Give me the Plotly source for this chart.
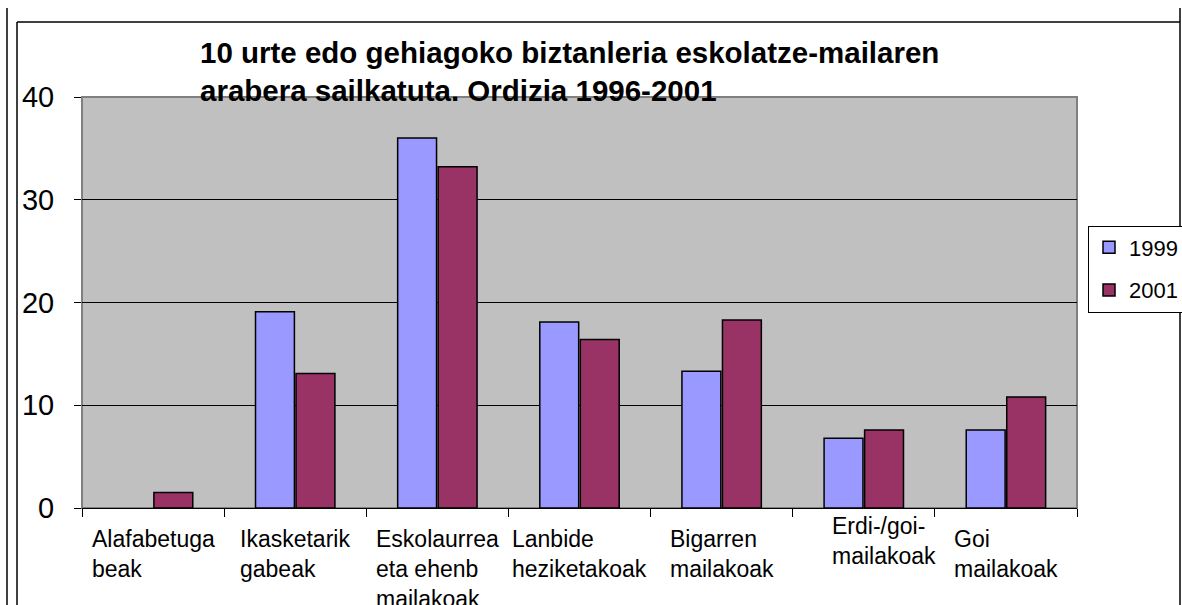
import plotly.graph_objects as go

categories = ["Alafabetugabeak", "Ikasketarik gabeak", "Eskolaurrea eta ehenb mailakoak",
              "Lanbide heziketakoak", "Bigarren mailakoak", "Erdi-/goi-mailakoak", "Goi mailakoak"]
category_labels = ["Alafabetuga<br>beak", "Ikasketarik<br>gabeak", "Eskolaurrea<br>eta ehenb<br>mailakoak",
                   "Lanbide<br>heziketakoak", "Bigarren<br>mailakoak", "Erdi-/goi-<br>mailakoak", "Goi<br>mailakoak"]
values_1999 = [None, 19.1, 36.0, 18.1, 13.3, 6.8, 7.6]
values_2001 = [1.5, 13.1, 33.2, 16.4, 18.3, 7.6, 10.8]
y_ticks = [0, 10, 20, 30, 40]
title_text = "10 urte edo gehiagoko biztanleria eskolatze-mailaren<br>arabera sailkatuta. Ordizia 1996-2001"

W, H = 1182, 605
L, R, T, B = 82, 1077, 97, 508


def px_x(px):
    return (px - L) / (R - L)


def px_y(py):
    return (B - py) / (B - T)


FONT = "Liberation Sans, Arial, sans-serif"

fig = go.Figure()
fig.add_trace(go.Bar(name="1999", x=categories, y=values_1999,
                     marker=dict(color="#9999ff", line=dict(color="black", width=1.5)),
                     legendgroup="a"))
fig.add_trace(go.Bar(name="2001", x=categories, y=values_2001,
                     marker=dict(color="#993366", line=dict(color="black", width=1.5)),
                     legendgroup="b"))

shapes = [
    # plot area border
    dict(type="rect", xref="paper", yref="paper", x0=0, x1=1, y0=0, y1=1,
         line=dict(color="#808080", width=2), layer="between"),
    # outer frame lines
    dict(type="line", xref="paper", yref="paper", x0=px_x(7), x1=px_x(7), y0=px_y(8), y1=px_y(610),
         line=dict(color="black", width=1.5)),
    dict(type="line", xref="paper", yref="paper", x0=px_x(17), x1=px_x(17), y0=px_y(22), y1=px_y(610),
         line=dict(color="black", width=1.5)),
    dict(type="line", xref="paper", yref="paper", x0=px_x(17), x1=px_x(1180), y0=px_y(22), y1=px_y(22),
         line=dict(color="black", width=1.5)),
    dict(type="line", xref="paper", yref="paper", x0=px_x(1180), x1=px_x(1180), y0=px_y(8), y1=px_y(610),
         line=dict(color="black", width=1.5)),
]

annotations = []
for i, (cat, lab) in enumerate(zip(categories, category_labels)):
    xs, ys = 0, 0
    if i == 5:
        xs, ys = 20, 13
    annotations.append(dict(x=cat, xref="x", y=px_y(524), yref="paper", text=lab,
                            showarrow=False, xanchor="center", yanchor="top", align="left",
                            xshift=xs, yshift=ys,
                            font=dict(family=FONT, size=23, color="black")))

fig.update_layout(
    width=W, height=H,
    margin=dict(l=L, r=W - R, t=T, b=H - B, pad=0, autoexpand=False),
    paper_bgcolor="white",
    plot_bgcolor="#c0c0c0",
    barmode="group",
    bargap=0.43,
    bargroupgap=0.04,
    title=dict(text="<b>" + title_text + "</b>", xref="container", x=200 / W, xanchor="left",
               yref="container", y=1 - 63 / H, yanchor="top",
               font=dict(family=FONT, size=29.5, color="black")),
    showlegend=True,
    legend=dict(x=px_x(1088), xanchor="left", y=px_y(269), yanchor="middle",
                bgcolor="white", bordercolor="black", borderwidth=1,
                font=dict(family=FONT, size=22, color="black"),
                tracegroupgap=11, traceorder="grouped", itemwidth=30),
    shapes=shapes,
    annotations=annotations,
)
fig.update_xaxes(type="category", showticklabels=False, ticks="outside", tickson="boundaries",
                 ticklen=8, tickcolor="black", showline=True, linecolor="black", linewidth=1,
                 showgrid=False)
fig.update_yaxes(range=[0, 40], tickvals=y_ticks, ticks="outside", ticklen=7, tickcolor="black",
                 showgrid=True, gridcolor="black", gridwidth=1, zeroline=False,
                 showline=False, ticklabelstandoff=14,
                 tickfont=dict(family=FONT, size=29, color="black"))

fig.write_html("out.html", config={"displayModeBar": False},
               post_script="document.body.style.margin='0';")
